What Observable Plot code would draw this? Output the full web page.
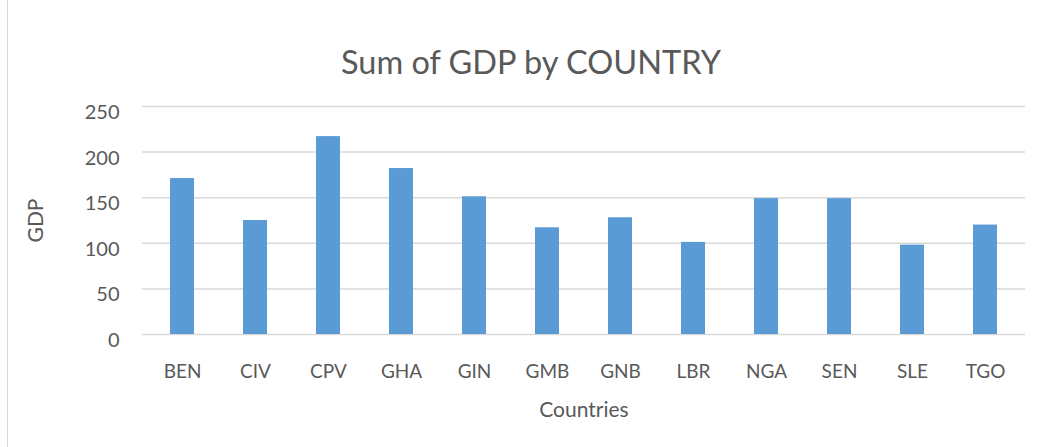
<!DOCTYPE html>
<html>
<head>
<meta charset="utf-8">
<script src="https://cdn.jsdelivr.net/npm/d3@7"></script>
<script src="https://cdn.jsdelivr.net/npm/@observablehq/plot@0.6"></script>
<style>
  html, body { margin: 0; padding: 0; background: #fff; }
  #wrap { position: relative; width: 1041px; height: 447px; overflow: hidden; font-family: Lato, "Open Sans", sans-serif; }
  #border { position: absolute; left: 7px; top: 0; width: 1px; height: 447px; background: #d9d9d9; }
  #title { position: absolute; left: 0; width: 1062px; top: 42px; text-align: center; font-size: 32.5px; color: #595959; line-height: 40px; }
  #chart { position: absolute; left: 0; top: 0; }
</style>
</head>
<body>
<div id="wrap">
  <div id="border"></div>
  <div id="chart"></div>
  <div id="title">Sum of GDP by COUNTRY</div>
</div>
<script>
const countries = ["BEN", "CIV", "CPV", "GHA", "GIN", "GMB", "GNB", "LBR", "NGA", "SEN", "SLE", "TGO"];
const gdp = [171, 125, 217, 182, 151, 117, 128, 101, 149, 149, 98, 120];
const yTicks = [0, 50, 100, 150, 200, 250];
const xTitle = "Countries";
const yTitle = "GDP";

const data = countries.map((c, i) => ({country: c, gdp: gdp[i]}));

const chart = Plot.plot({
  width: 1041,
  height: 447,
  marginTop: 106,
  marginBottom: 113,
  marginLeft: 142,
  marginRight: 16,
  style: {fontFamily: "Lato, 'Open Sans', sans-serif", fontSize: "19px", color: "#595959", background: "transparent"},
  x: {domain: countries, paddingInner: 0.674, paddingOuter: 0.337, label: null},
  y: {domain: [0, 250], ticks: yTicks, label: null},
  marks: [
    Plot.gridY(yTicks, {stroke: "#d9d9d9", strokeOpacity: 1, strokeWidth: 1.5}),
    Plot.barY(data, {x: "country", y: "gdp", fill: "#5b9bd5"}),
    Plot.axisX({tickSize: 0, tickPadding: 30, fontSize: 19, label: null}),
    Plot.axisY(yTicks, {tickSize: 0, tickPadding: 23, fontSize: 20, dy: 6, label: null}),
    Plot.text([xTitle], {text: d => d, frameAnchor: "bottom", dy: 82, fontSize: 21, fill: "#595959"}),
    Plot.text([yTitle], {text: d => d, frameAnchor: "left", textAnchor: "middle", dx: -106, rotate: -90, fontSize: 21, fill: "#595959"})
  ]
});
chart.querySelectorAll("text").forEach(t => t.setAttribute("fill", "#595959"));
document.getElementById("chart").appendChild(chart);
</script>
</body>
</html>
